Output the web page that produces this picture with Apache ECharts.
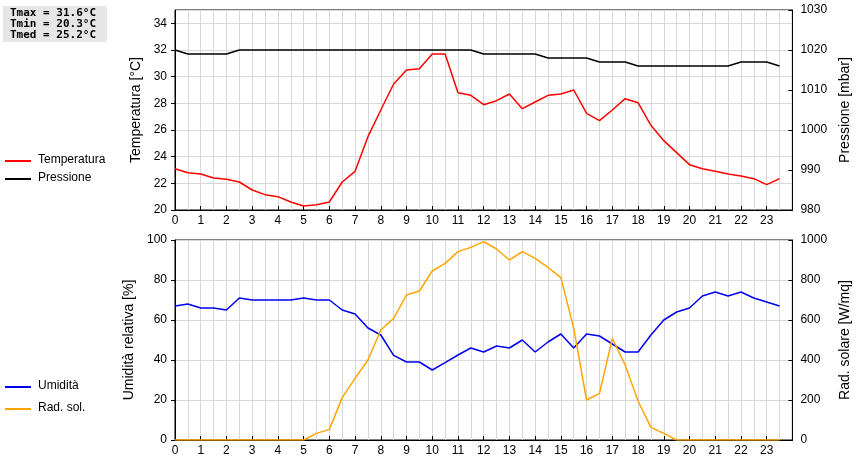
<!DOCTYPE html>
<html>
<head>
<meta charset="utf-8">
<script src="https://cdn.jsdelivr.net/npm/echarts@6/dist/echarts.min.js"></script>
<style>html,body{margin:0;padding:0;background:#fff}#c{width:860px;height:460px}</style>
</head>
<body>
<div id="c"></div>
<script>
// half-hour readings, 0 .. 23.5
var temperatura = [23.1, 22.8, 22.7, 22.4, 22.3, 22.1, 21.5, 21.15, 21.0, 20.6, 20.3, 20.4, 20.6, 22.1, 22.9, 25.5,
  27.5, 29.45, 30.5, 30.6, 31.7, 31.7, 28.8, 28.6, 27.9, 28.2, 28.7, 27.6, 28.1, 28.6, 28.7, 29.0,
  27.25, 26.7, 27.5, 28.35, 28.05, 26.35, 25.2, 24.3, 23.4, 23.1, 22.9, 22.7, 22.55, 22.35, 21.9, 22.35];
var pressione = [1020, 1019, 1019, 1019, 1019, 1020, 1020, 1020, 1020, 1020, 1020, 1020, 1020, 1020, 1020, 1020,
  1020, 1020, 1020, 1020, 1020, 1020, 1020, 1020, 1019, 1019, 1019, 1019, 1019, 1018, 1018, 1018,
  1018, 1017, 1017, 1017, 1016, 1016, 1016, 1016, 1016, 1016, 1016, 1016, 1017, 1017, 1017, 1016];
var umidita = [67, 68, 66, 66, 65, 71, 70, 70, 70, 70, 71, 70, 70, 65, 63, 56,
  52.5, 42.3, 39, 39, 35, 38.7, 42.5, 46, 44, 47, 46, 50, 44, 49, 53, 46,
  53, 52, 48, 44, 44, 52.5, 60, 64, 66, 72, 74, 72, 74, 71, 69, 67];
var radSol = [0, 0, 0, 0, 0, 0, 0, 0, 0, 0, 0, 33, 53, 212, 308, 400,
  550, 608, 725, 745, 845, 883, 942, 963, 992, 955, 900, 942, 908, 863, 812, 558,
  200, 233, 508, 375, 195, 63, 33, 0, 0, 0, 0, 0, 0, 0, 0, 0];
var stats = ['Tmax = 31.6°C', 'Tmin = 20.3°C', 'Tmed = 25.2°C'];

function pairs(vals) {
  return vals.map(function (v, i) { return [i * 0.5, v]; });
}

var chart = echarts.init(document.getElementById('c'));
var font = 'Liberation Sans, Arial, sans-serif';

function xAxis(idx) {
  return {
    type: 'value', gridIndex: idx, min: 0, max: 24, interval: 1,
    axisLine: { lineStyle: { color: '#000' } },
    axisTick: { inside: true, length: 4, lineStyle: { color: '#000' } },
    axisLabel: { color: '#000', fontFamily: font, fontSize: 12, margin: 5,
      formatter: function (v) { return v === 24 ? '' : v; } },
    splitLine: { show: true, lineStyle: { color: '#d8d8d8' } },
    minorTick: { show: true, splitNumber: 2, length: 0 },
    minorSplitLine: { show: true, lineStyle: { color: '#d8d8d8' } }
  };
}
function yAxis(idx, pos, min, max, interval, name, grid) {
  return {
    type: 'value', gridIndex: idx, position: pos, min: min, max: max, interval: interval,
    name: name, nameLocation: 'middle', nameGap: pos === 'left' ? 30 : 44, nameRotate: 90,
    nameTextStyle: { color: '#000', fontFamily: font, fontSize: 14 },
    axisLine: { show: true, lineStyle: { color: '#000' } },
    axisTick: { inside: pos === 'right', length: 4, lineStyle: { color: '#000' } },
    axisLabel: { color: '#000', fontFamily: font, fontSize: 12, showMaxLabel: max % interval === 0,
      formatter: function (v) { return v > max - 1e-9 && max % interval !== 0 ? '' : v; } },
    splitLine: { show: grid, lineStyle: { color: '#d8d8d8' } }
  };
}

var option = {
  animation: false,
  grid: [
    { left: 175, right: 56, top: 10, height: 200, show: true, borderColor: '#000', borderWidth: 1 },
    { left: 175, right: 56, top: 240, height: 200, show: true, borderColor: '#000', borderWidth: 1 }
  ],
  xAxis: [xAxis(0), xAxis(1)],
  yAxis: [
    yAxis(0, 'left', 20, 35, 2, 'Temperatura [°C]', true),
    yAxis(0, 'right', 980, 1030, 10, 'Pressione [mbar]', false),
    yAxis(1, 'left', 0, 100, 20, 'Umidità relativa [%]', true),
    yAxis(1, 'right', 0, 1000, 200, 'Rad. solare [W/mq]', false)
  ],
  series: [
    { type: 'line', name: 'Temperatura', xAxisIndex: 0, yAxisIndex: 0, data: pairs(temperatura),
      showSymbol: false, lineStyle: { color: '#ff0000', width: 1.5 } },
    { type: 'line', name: 'Pressione', xAxisIndex: 0, yAxisIndex: 1, data: pairs(pressione),
      showSymbol: false, lineStyle: { color: '#000', width: 1.5 } },
    { type: 'line', name: 'Umidità', xAxisIndex: 1, yAxisIndex: 2, data: pairs(umidita),
      showSymbol: false, lineStyle: { color: '#0000ee', width: 1.5 } },
    { type: 'line', name: 'Rad. sol.', xAxisIndex: 1, yAxisIndex: 3, data: pairs(radSol),
      showSymbol: false, lineStyle: { color: '#ffa500', width: 1.5 } }
  ],
  graphic: [
    { type: 'rect', left: 3, top: 6, shape: { width: 104, height: 36 }, style: { fill: '#e6e6e6' } },
    { type: 'text', left: 10, top: 8, style: { text: stats.join('\n'), fill: '#000',
      font: 'bold 11px DejaVu Sans Mono', lineHeight: 11 } },
    { type: 'line', shape: { x1: 5, y1: 161, x2: 31, y2: 161 }, style: { stroke: '#ff0000', lineWidth: 2 } },
    { type: 'text', left: 38, top: 154, style: { text: 'Temperatura', fill: '#000', font: '12px ' + font } },
    { type: 'line', shape: { x1: 5, y1: 179, x2: 31, y2: 179 }, style: { stroke: '#000', lineWidth: 2 } },
    { type: 'text', left: 38, top: 172, style: { text: 'Pressione', fill: '#000', font: '12px ' + font } },
    { type: 'line', shape: { x1: 5, y1: 387, x2: 31, y2: 387 }, style: { stroke: '#0000ee', lineWidth: 2 } },
    { type: 'text', left: 38, top: 380, style: { text: 'Umidità', fill: '#000', font: '12px ' + font } },
    { type: 'line', shape: { x1: 5, y1: 409, x2: 31, y2: 409 }, style: { stroke: '#ffa500', lineWidth: 2 } },
    { type: 'text', left: 38, top: 402, style: { text: 'Rad. sol.', fill: '#000', font: '12px ' + font } }
  ]
};
chart.setOption(option);
</script>
</body>
</html>
